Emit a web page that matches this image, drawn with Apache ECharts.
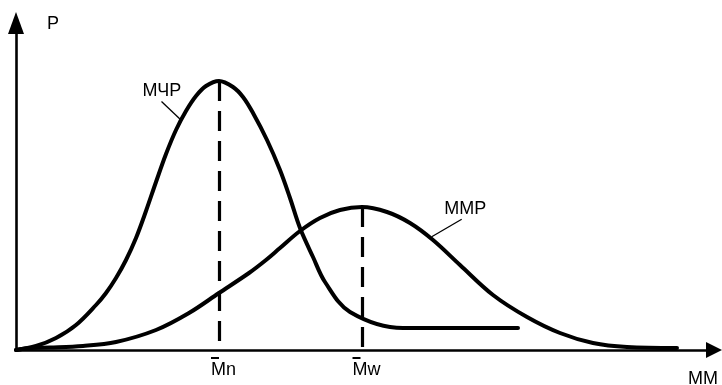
<!DOCTYPE html>
<html>
<head>
<meta charset="utf-8">
<script src="https://cdn.jsdelivr.net/npm/echarts@6/dist/echarts.min.js"></script>
<style>
  html, body { margin: 0; padding: 0; background: #fff; }
  #chart { width: 722px; height: 385px; }
</style>
</head>
<body>
<div id="chart"></div>
<script>
// Molecular mass distribution curves (schematic), units along axes are arbitrary
const mchrX = [0, 20, 40, 60, 80, 90, 100, 110, 120, 130, 140, 150, 160, 170, 180, 190, 203, 217, 227, 237, 251, 264, 274, 284, 297, 309, 334, 387, 502];
const mchrY = [0, 4, 12, 25, 45, 57, 72, 90, 112, 139, 168, 196, 220, 239, 254, 264, 269, 263, 253, 237, 210, 180, 152, 122, 93, 68, 38, 22, 22];

const mmrX = [0, 13, 34, 67, 100, 140, 173, 203, 233, 250, 264, 284, 304, 324, 346, 371, 394, 417, 444, 477, 511, 544, 577, 611, 661];
const mmrY = [0, 2, 2.5, 4, 8, 20, 37, 57, 77, 90, 102, 119, 132, 140, 143, 138, 127, 110, 85, 55, 33, 17, 7, 3, 2];

const seriesNames = ['МЧР', 'ММР'];
const tickLabels = ['Mn', 'Mw'];
const axisNames = ['P', 'MM'];

function peakOf(xs, ys) {
  let k = 0;
  for (let i = 1; i < ys.length; i++) if (ys[i] > ys[k]) k = i;
  return [xs[k], ys[k]];
}
const pN = peakOf(mchrX, mchrY);
const pW = peakOf(mmrX, mmrY);

const toPairs = (xs, ys) => xs.map((x, i) => [x, ys[i]]);

const FONT = '"Liberation Sans", Arial, sans-serif';

const dashLine = (p) => ({
  silent: true,
  symbol: 'none',
  label: { show: false },
  lineStyle: { color: '#000', width: 3.2, type: [20, 10] },
  data: [[{ coord: [p[0], p[1]] }, { coord: [p[0], 0] }]]
});

const chart = echarts.init(document.getElementById('chart'));
chart.setOption({
  animation: false,
  backgroundColor: '#fff',
  grid: { left: 16, right: 8, top: 23, bottom: 35, containLabel: false },
  xAxis: {
    type: 'value', min: 0, max: 698,
    splitLine: { show: false },
    axisTick: { show: false },
    axisLine: {
      show: true, onZero: true,
      symbol: ['none', 'triangle'], symbolSize: [16, 16],
      lineStyle: { color: '#000', width: 2.6 }
    },
    axisLabel: {
      show: true,
      customValues: [pN[0], pW[0]],
      margin: 6,
      padding: [0, 0, 0, 9],
      formatter: function (v) {
        const t = v === pN[0] ? tickLabels[0] : tickLabels[1];
        return '{ov| }\n{t|' + t + '}';
      },
      rich: {
        ov: { width: 8, height: 2, lineHeight: 4, fontSize: 2, backgroundColor: '#000', align: 'left' },
        t: { fontSize: 18, lineHeight: 20, fontFamily: FONT, color: '#000' }
      }
    }
  },
  yAxis: {
    type: 'value', min: 0, max: 327,
    splitLine: { show: false },
    axisTick: { show: false },
    axisLabel: { show: false },
    axisLine: {
      show: true,
      symbol: ['none', 'triangle'], symbolSize: [16, 22],
      lineStyle: { color: '#000', width: 2.6 }
    }
  },
  series: [
    {
      name: seriesNames[0], type: 'line', data: toPairs(mchrX, mchrY),
      smooth: 0.35, showSymbol: false, z: 3,
      lineStyle: { color: '#000', width: 4, cap: 'round', join: 'round' },
      markLine: dashLine(pN)
    },
    {
      name: seriesNames[1], type: 'line', data: toPairs(mmrX, mmrY),
      smooth: 0.35, showSymbol: false, z: 3,
      lineStyle: { color: '#000', width: 4, cap: 'round', join: 'round' },
      markLine: dashLine(pW)
    }
  ],
  graphic: [
    { type: 'text', x: 47, y: 24, style: { text: axisNames[0], fill: '#000', font: '18px ' + FONT, textAlign: 'left', textVerticalAlign: 'middle' } },
    { type: 'text', x: 688, y: 379.5, style: { text: axisNames[1], fill: '#000', font: '18px ' + FONT, textAlign: 'left', textVerticalAlign: 'middle' } },
    { type: 'text', x: 142.5, y: 90.7, style: { text: seriesNames[0], fill: '#000', font: '18px ' + FONT, textAlign: 'left', textVerticalAlign: 'middle' } },
    { type: 'line', shape: { x1: 161.5, y1: 101.5, x2: 181.5, y2: 120.5 }, style: { stroke: '#000', lineWidth: 1.3 } },
    { type: 'text', x: 444.3, y: 209.2, style: { text: seriesNames[1], fill: '#000', font: '18px ' + FONT, textAlign: 'left', textVerticalAlign: 'middle' } },
    { type: 'line', shape: { x1: 461.7, y1: 219.3, x2: 431.7, y2: 236.7 }, style: { stroke: '#000', lineWidth: 1.3 } }
  ]
});
</script>
</body>
</html>
